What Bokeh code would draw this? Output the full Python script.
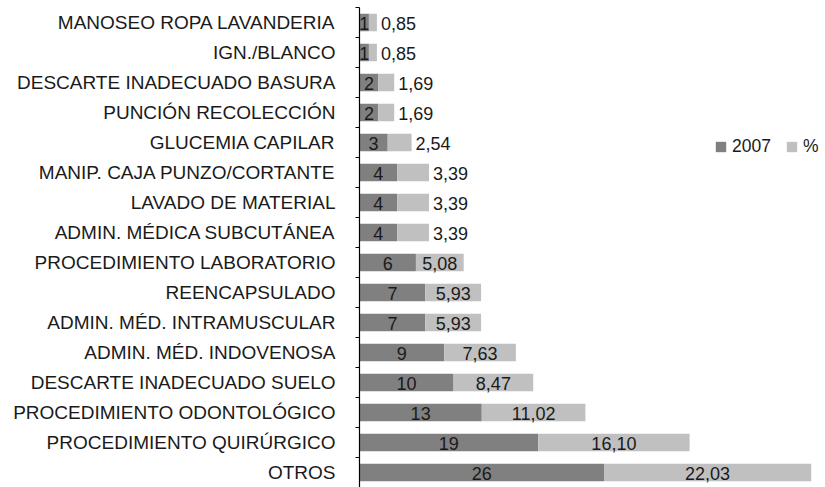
from bokeh.plotting import figure
from bokeh.models import ColumnDataSource, FixedTicker, Range1d, Legend, LegendItem
from bokeh.core.properties import value
from bokeh.embed import file_html
from bokeh.resources import INLINE

categories = [
    "MANOSEO ROPA LAVANDERIA",
    "IGN./BLANCO",
    "DESCARTE INADECUADO BASURA",
    "PUNCIÓN RECOLECCIÓN",
    "GLUCEMIA CAPILAR",
    "MANIP. CAJA PUNZO/CORTANTE",
    "LAVADO DE MATERIAL",
    "ADMIN. MÉDICA SUBCUTÁNEA",
    "PROCEDIMIENTO LABORATORIO",
    "REENCAPSULADO",
    "ADMIN. MÉD. INTRAMUSCULAR",
    "ADMIN. MÉD. INDOVENOSA",
    "DESCARTE INADECUADO SUELO",
    "PROCEDIMIENTO ODONTOLÓGICO",
    "PROCEDIMIENTO QUIRÚRGICO",
    "OTROS",
]
counts_2007 = [1, 1, 2, 2, 3, 4, 4, 4, 6, 7, 7, 9, 10, 13, 19, 26]
percent = [0.85, 0.85, 1.69, 1.69, 2.54, 3.39, 3.39, 3.39, 5.08, 5.93, 5.93, 7.63, 8.47, 11.02, 16.10, 22.03]
pct_labels = ["0,85", "0,85", "1,69", "1,69", "2,54", "3,39", "3,39", "3,39", "5,08",
              "5,93", "5,93", "7,63", "8,47", "11,02", "16,10", "22,03"]

FONT = "Liberation Sans"
DARK = "#808080"
LIGHT = "#c0c0c0"
TXT = "#1a1a1a"

n = len(categories)
ypos = [n - 1 - i for i in range(n)]  # first category on top

ends = [c + p for c, p in zip(counts_2007, percent)]
src = ColumnDataSource(dict(
    y=ypos, c=counts_2007, p=percent, e=ends,
    cmid=[c / 2 for c in counts_2007],
    clab=[str(c) for c in counts_2007],
))

# percent labels: centered in segment when it fits, else just after the bar
fit = [p >= 4.5 for p in percent]
in_src = ColumnDataSource(dict(
    x=[c + p / 2 for c, p, f in zip(counts_2007, percent, fit) if f],
    y=[y for y, f in zip(ypos, fit) if f],
    t=[t for t, f in zip(pct_labels, fit) if f],
))
out_src = ColumnDataSource(dict(
    x=[e for e, f in zip(ends, fit) if not f],
    y=[y for y, f in zip(ypos, fit) if not f],
    t=[t for t, f in zip(pct_labels, fit) if not f],
))

p = figure(width=825, height=487, output_backend="svg", toolbar_location=None,
           x_range=Range1d(0, 49.55), y_range=Range1d(-0.5, n - 0.5),
           min_border_left=359, min_border_right=0, min_border_top=7, min_border_bottom=0)
p.outline_line_color = None
p.grid.grid_line_color = None
p.xaxis.visible = False

bh = 0.58
r1 = p.hbar(y="y", left=0, right="c", height=bh, source=src, fill_color=DARK, line_color=None)
r2 = p.hbar(y="y", left="c", right="e", height=bh, source=src, fill_color=LIGHT, line_color=None)

LS = "18px"
p.text(x="cmid", y="y", text="clab", source=src, text_align="center", text_baseline="middle",
       text_font=value(FONT), text_font_size=LS, text_color=TXT, y_offset=1)
p.text(x="x", y="y", text="t", source=in_src, text_align="center", text_baseline="middle",
       text_font=value(FONT), text_font_size=LS, text_color=TXT, y_offset=1)
p.text(x="x", y="y", text="t", source=out_src, text_align="left", text_baseline="middle",
       text_font=value(FONT), text_font_size=LS, text_color=TXT, x_offset=4, y_offset=1)

yax = p.yaxis[0]
yax.ticker = FixedTicker(ticks=ypos, minor_ticks=[k - 0.5 for k in range(n + 1)])
yax.major_label_overrides = {y: c for y, c in zip(ypos, categories)}
yax.major_tick_out = 0
yax.major_tick_in = 0
yax.minor_tick_out = 4
yax.minor_tick_in = 0
yax.minor_tick_line_color = "#000000"
yax.axis_line_color = "#000000"
yax.axis_line_width = 1.2
yax.major_label_standoff = 20
yax.major_label_text_font = FONT
yax.major_label_text_font_size = "19px"
yax.major_label_text_color = TXT

legend = Legend(items=[LegendItem(label="2007", renderers=[r1]), LegendItem(label="%", renderers=[r2])],
                orientation="horizontal", location=(355, 330),
                label_text_font=FONT, label_text_font_size="17.5px", label_text_color=TXT,
                glyph_width=13, glyph_height=13, label_standoff=5, spacing=14,
                padding=0, margin=0, border_line_color=None, background_fill_alpha=0)
p.add_layout(legend)

open("out.html", "w").write(file_html(p, INLINE))
